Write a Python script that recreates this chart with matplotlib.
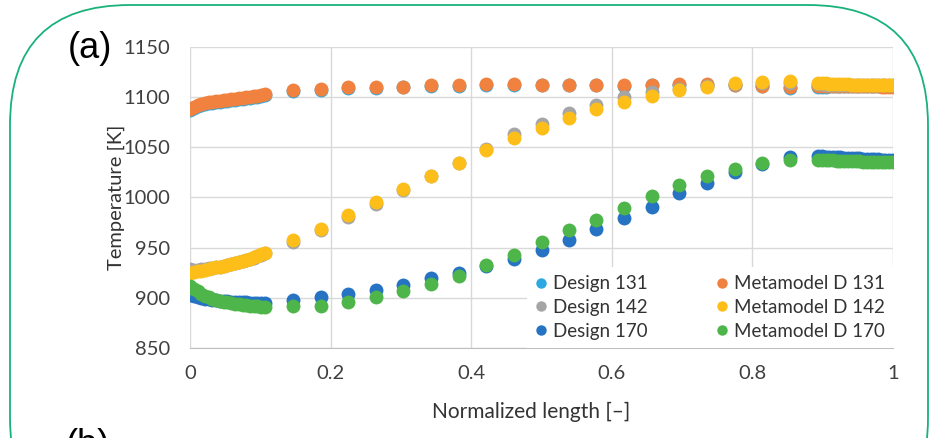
import matplotlib.pyplot as plt
from matplotlib.patches import FancyBboxPatch

plt.rcParams['font.family'] = ['Lato', 'DejaVu Sans']

# normalized length positions (dense near both ends)
x_len = [0.000, 0.005, 0.011, 0.016, 0.021, 0.027, 0.032, 0.037, 0.043, 0.048, 0.053,
         0.059, 0.064, 0.069, 0.075, 0.080, 0.085, 0.091, 0.096, 0.101, 0.107,
         0.146, 0.186, 0.225, 0.264, 0.303, 0.343, 0.382, 0.421, 0.461, 0.500,
         0.539, 0.578, 0.618, 0.657, 0.696, 0.736, 0.775, 0.814, 0.854,
         0.893, 0.899, 0.904, 0.909, 0.915, 0.920, 0.925, 0.931, 0.936, 0.941, 0.947,
         0.952, 0.957, 0.963, 0.968, 0.973, 0.979, 0.984, 0.989, 0.995, 1.000]

design_131 = [1087, 1089, 1091, 1092, 1093, 1094, 1094.5, 1095, 1095.5, 1096, 1096.5,
              1097, 1097.5, 1098, 1098.5, 1099, 1099.5, 1100, 1100.5, 1101, 1102,
              1106, 1107, 1109, 1109.5, 1110, 1111, 1111, 1112, 1112, 1112,
              1112, 1112, 1111.5, 1112, 1112, 1112.5, 1112, 1111.5, 1109,
              1110, 1110.5, 1110.5, 1111, 1111, 1111, 1111, 1111, 1111, 1111, 1111,
              1111, 1111, 1111, 1111, 1111, 1111, 1111, 1111, 1111, 1111]
meta_131 = [1088, 1090, 1092, 1093, 1094, 1095, 1095.5, 1096, 1096.5, 1097, 1097.5,
            1098, 1098.5, 1099, 1099.5, 1100, 1100.5, 1101, 1101.5, 1102, 1103,
            1107, 1108, 1110, 1110.5, 1110.5, 1112, 1112, 1113, 1113, 1112,
            1112, 1112, 1112, 1112, 1113, 1113, 1112, 1111, 1110.5,
            1111.5, 1111.5, 1111.5, 1111.5, 1111, 1111, 1111, 1111, 1111, 1111, 1111,
            1111, 1111, 1111, 1111, 1111, 1111, 1110.5, 1110.5, 1110.5, 1110.5]
design_142 = [929, 928, 928, 928.5, 929, 929.5, 930, 930.5, 931, 932, 933,
              934, 935, 936, 937, 938, 939, 940, 941.5, 943, 944.5,
              956, 968, 981, 994, 1007, 1021, 1034, 1048, 1063, 1073,
              1084, 1092, 1100.5, 1105.5, 1108.5, 1111, 1113.5, 1114, 1114,
              1113, 1113, 1112.5, 1112.5, 1112.5, 1112, 1112, 1112, 1112, 1112, 1112,
              1112, 1112, 1112, 1112, 1112, 1112, 1112, 1112, 1112, 1112]
meta_142 = [925, 925.5, 926.5, 927, 928, 929, 929.5, 930.5, 931, 932, 933,
            934, 935, 936, 937, 938, 939, 940.5, 942, 943.5, 945,
            957.5, 969, 983, 996, 1008, 1021.5, 1034, 1047, 1059, 1069.5,
            1079, 1088, 1095.5, 1101, 1107, 1110.5, 1114, 1115.5, 1116.5,
            1114.5, 1114, 1114, 1113.5, 1113.5, 1113, 1113, 1113, 1113, 1112.5, 1112.5,
            1112.5, 1112.5, 1112, 1112, 1112, 1112, 1112, 1112, 1112, 1112]
design_170 = [903, 901.5, 900.5, 899.5, 899, 898.5, 898, 897.5, 897, 896.5, 896.5,
              896, 896, 895.5, 895.5, 895.5, 895, 895, 895, 895, 895,
              897.5, 900.5, 903.5, 907.5, 912.5, 919.5, 925, 931.5, 939, 948,
              957.5, 969, 980, 991, 1004, 1014, 1025.5, 1033, 1040.5,
              1041, 1041, 1040.5, 1040.5, 1040, 1040, 1040, 1039.5, 1039.5, 1039, 1039,
              1039, 1038.5, 1038.5, 1038, 1038, 1038, 1037.5, 1037.5, 1037, 1037]
meta_170 = [912, 909, 906.5, 904, 902, 900.5, 899, 898, 897, 896, 895.5,
            895, 894, 893.5, 893, 892.5, 892, 891.5, 891.5, 891, 891,
            892, 892, 896, 901, 907, 914, 921.5, 932.5, 943, 956,
            967.5, 978, 990, 1001, 1012, 1021.5, 1028, 1034, 1037,
            1037.5, 1037.5, 1037, 1037, 1037, 1036.5, 1036.5, 1036.5, 1036, 1036, 1036,
            1036, 1035.5, 1035.5, 1035.5, 1035.5, 1035, 1035, 1035, 1035, 1035]

x_ticks = [0, 0.2, 0.4, 0.6, 0.8, 1]
x_ticklabels = ['0', '0.2', '0.4', '0.6', '0.8', '1']
y_ticks = [850, 900, 950, 1000, 1050, 1100, 1150]

# drawing order as in the spreadsheet (metamodel on top of its design)
series = [('Design 131', design_131, '#2DA9E1'),
          ('Metamodel D 131', meta_131, '#F0813E'),
          ('Design 142', design_142, '#A5A5A5'),
          ('Metamodel D 142', meta_142, '#FDBE1A'),
          ('Design 170', design_170, '#2672C3'),
          ('Metamodel D 170', meta_170, '#4DB54A')]

fig = plt.figure(figsize=(9.33, 4.38), dpi=100)
ax = fig.add_axes([190/933, 90/438, 703/933, 301/438])

handles = {}
for name, vals, col in series:
    h, = ax.plot(x_len, vals, 'o', color=col, ms=10, mew=0, label=name)
    handles[name] = h

ax.set_xlim(0, 1)
ax.set_ylim(850, 1150)
ax.set_xticks(x_ticks)
ax.set_xticklabels(x_ticklabels)
ax.set_yticks(y_ticks)
ax.grid(color='#D9D9D9', linewidth=1)
ax.set_axisbelow(True)
for s in ['top', 'right', 'left']:
    ax.spines[s].set_visible(False)
ax.spines['bottom'].set_color('#BFBFBF')
ax.tick_params(axis='both', length=0, labelsize=14.5, labelcolor='#404040')
ax.tick_params(axis='y', pad=14)
ax.tick_params(axis='x', pad=12)

ax.set_xlabel('Normalized length [–]', fontsize=15, color='#333333')
ax.xaxis.set_label_coords(0.485, -0.179)
ax.set_ylabel('Temperature [K]', fontsize=14.5, color='#333333')
ax.yaxis.set_label_coords(-0.092, 0.5)

order = ['Design 131', 'Design 142', 'Design 170',
         'Metamodel D 131', 'Metamodel D 142', 'Metamodel D 170']
leg = ax.legend([handles[n] for n in order], order, ncol=2, loc='lower right',
                bbox_to_anchor=(1.0, 0.0), borderaxespad=0, frameon=True,
                fancybox=False, edgecolor='none', framealpha=1, fontsize=13.5,
                labelcolor='#333333', handlelength=0.6, handletextpad=0.3,
                columnspacing=3.7, markerscale=0.75, labelspacing=0.35,
                borderpad=0.45)

# green rounded frame around the panel
frame = FancyBboxPatch((0.10, -1.0), 9.18, 5.33,
                       boxstyle='round,pad=0,rounding_size=1.2',
                       transform=fig.dpi_scale_trans, fill=False,
                       edgecolor='#19B27B', linewidth=1.3)
fig.add_artist(frame)

fig.text(68/933, 1 - 48/438, '(a)', fontsize=26, family='Liberation Sans',
         va='center', ha='left')
fig.text(66/933, 1 - 428/438, '(b)', fontsize=26, family='Liberation Sans',
         va='top', ha='left')

fig.savefig('out.png', dpi=100)
